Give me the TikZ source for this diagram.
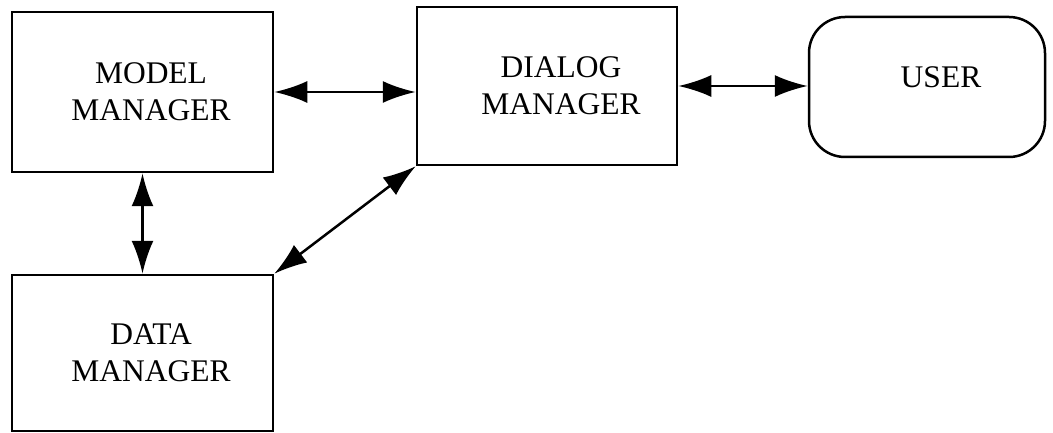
\documentclass[tikz,border=0pt]{standalone}
\usepackage{fontspec}
\setmainfont{Liberation Serif}
\usetikzlibrary{arrows.meta}
\newcommand{\sh}[1]{\hspace*{#1}}
\begin{document}
\begin{tikzpicture}[x=1pt,y=-1pt,
  box/.style={draw,line width=2.5pt,align=center,inner sep=0pt,
    font=\fontsize{31.5}{37}\selectfont},
  conn/.style={line width=2.5pt,{Latex[length=33pt,width=22pt]}-{Latex[length=33pt,width=22pt]}}]
\useasboundingbox (0,0) rectangle (1053,433);
\node[box,minimum width=261pt,minimum height=160pt] (model) at (142.5,92) {\sh{17pt}MODEL\\\sh{17pt}MANAGER};
\node[box,minimum width=260pt,minimum height=158pt] (dialog) at (547,86) {\sh{28pt}DIALOG\\\sh{28pt}MANAGER};
\node[box,rounded corners=36pt,minimum width=236pt,minimum height=140pt] (user) at (927,87) {\sh{28pt}USER\\[-18pt]\mbox{}};
\node[box,minimum width=261pt,minimum height=156pt] (data) at (142.5,353) {\sh{17pt}DATA\\\sh{17pt}MANAGER};
\draw[conn] (model.east) -- (model.east -| dialog.west);
\draw[conn] (dialog.east) -- (dialog.east -| user.west);
\draw[conn] (model.south) -- (data.north);
\draw[conn] (dialog.south west) -- (data.north east);
\end{tikzpicture}
\end{document}
